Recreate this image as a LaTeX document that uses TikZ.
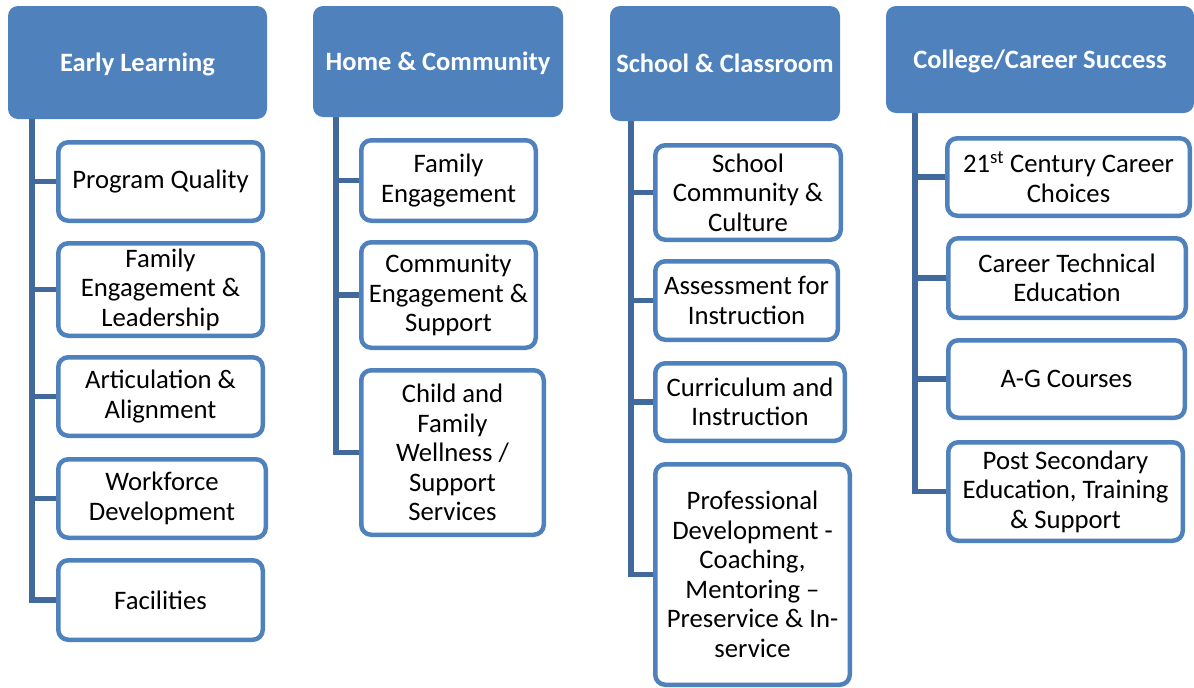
\documentclass[tikz,border=0pt]{standalone}
\usepackage{fontspec}
\setmainfont{Carlito}
\usetikzlibrary{backgrounds}
\definecolor{accent}{HTML}{4F81BD}
\definecolor{trunkc}{HTML}{41699B}
\tikzset{
  x=1pt, y=-1pt,
  header/.style={fill=accent, rounded corners=10pt, inner sep=0pt, text=white,
    font=\fontsize{26.5}{30}\selectfont\bfseries, align=center,
    text height=20pt, text depth=3pt},
  child/.style={draw=accent, line width=4.5pt, fill=white, rounded corners=10pt,
    inner sep=0pt, align=center, text=black, font=\fontsize{26.7}{29.5}\selectfont},
  conn/.style={draw=trunkc, line width=5.5pt},
}
\begin{document}
\begin{tikzpicture}
\useasboundingbox (0,0) rectangle (1194,688);
% Column 1
\node[header, minimum width=259, minimum height=113] (h1) at (137.5,62.5) {Early Learning};
\node[child, minimum width=204.5, minimum height=78.5] (c11) at (160.5,181.5) {Program Quality};
\node[child, minimum width=204.5, minimum height=92.5] (c12) at (160.5,289.5) {Family\\Engagement \&\\Leadership};
\node[child, minimum width=204.5, minimum height=78.5] (c13) at (160.5,396.5) {Articulation \&\\Alignment};
\node[child, minimum width=207.5, minimum height=78.5] (c14) at (162,498.5) {Workforce\\Development};
\node[child, minimum width=204.5, minimum height=79.5] (c15) at (160.5,600) {Facilities};
\coordinate (t1) at (32,119);
% Column 2
\node[header, minimum width=250, minimum height=111] (h2) at (438,61.5) {Home \& Community};
\node[child, minimum width=174.5, minimum height=80.5] (c21) at (448.5,180.5) {Family\\Engagement};
\node[child, minimum width=174.5, minimum height=105.5] (c22) at (448.5,295) {Community\\Engagement \&\\Support};
\node[child, minimum width=182.5, minimum height=164.5] (c23) at (452.5,452.5) {Child and\\Family\\Wellness /\\Support\\Services};
\coordinate (t2) at (336,117);
% Column 3
\node[header, minimum width=230, minimum height=115] (h3) at (725,63.5) {School \& Classroom};
\node[child, minimum width=185.5, minimum height=94.5] (c31) at (748,192.5) {School\\Community \&\\Culture};
\node[child, minimum width=182.5, minimum height=78.5] (c32) at (746.5,300.5) {Assessment for\\Instruction};
\node[child, minimum width=189.5, minimum height=77.5] (c33) at (750,402) {Curriculum and\\Instruction};
\node[child, minimum width=194.5, minimum height=220.5] (c34) at (752.5,574.5) {Professional\\Development -\\Coaching,\\Mentoring –\\Preservice \& In-\\service};
\coordinate (t3) at (631,121);
% Column 4
\node[header, minimum width=308, minimum height=107] (h4) at (1040,59.5) {College/Career Success};
\node[child, minimum width=242.5, minimum height=77.5] (c41) at (1068.5,177) {21\textsuperscript{st} Century Career\\Choices};
\node[child, minimum width=237.5, minimum height=79.5] (c42) at (1067,278) {Career Technical\\Education};
\node[child, minimum width=236.5, minimum height=77.5] (c43) at (1066.5,379) {A-G Courses};
\node[child, minimum width=234.5, minimum height=98.5] (c44) at (1065.5,491.5) {Post Secondary\\Education, Training\\\& Support};
\coordinate (t4) at (915,113);
% Connectors
\begin{pgfonlayer}{background}
\draw[conn] (t1) |- (c15.west);
\foreach \c in {c11,c12,c13,c14} \draw[conn] (\c.west) -- (\c.west -| t1);
\draw[conn] (t2) |- (c23.west);
\foreach \c in {c21,c22} \draw[conn] (\c.west) -- (\c.west -| t2);
\draw[conn] (t3) |- (c34.west);
\foreach \c in {c31,c32,c33} \draw[conn] (\c.west) -- (\c.west -| t3);
\draw[conn] (t4) |- (c44.west);
\foreach \c in {c41,c42,c43} \draw[conn] (\c.west) -- (\c.west -| t4);
\end{pgfonlayer}
\end{tikzpicture}
\end{document}
